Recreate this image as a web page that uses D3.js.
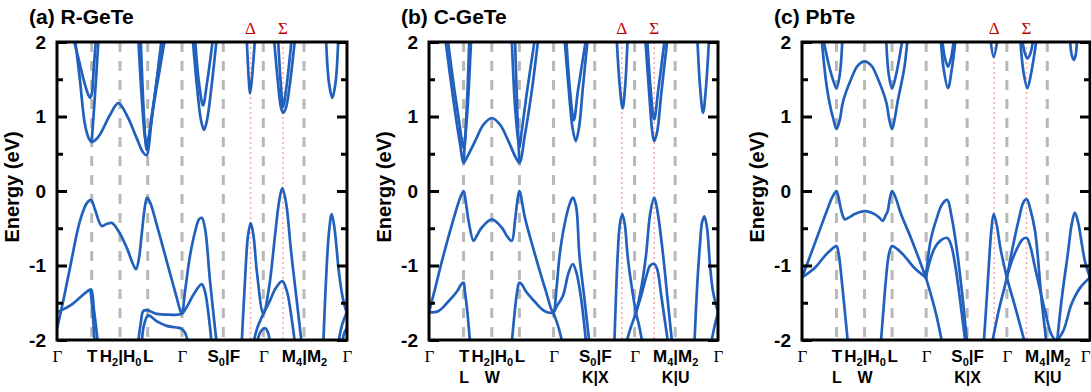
<!doctype html>
<html lang="en">
<head>
<meta charset="utf-8" />
<title>Band structures</title>
<script src="https://d3js.org/d3.v7.min.js"></script>
<style>
  body { margin: 0; background: #fff; }
  svg { display: block; }
</style>
</head>
<body>
<div id="chart"></div>
<script>
// k-path (path length units) and labels
const kTicks = [0, 34.7, 63, 90.7, 125, 166.3, 206.3, 247, 290];
const kLabels = ["Γ", "T", "H_2|H_0", "L", "Γ", "S_0|F", "Γ", "M_4|M_2", "Γ"];
const kLabels2 = ["", "L", "W", "", "", "K|X", "", "K|U", ""];
const kMarks = [193.5, 226];
const markLabels = ["Δ", "Σ"];
const eTicks = [-2, -1, 0, 1, 2];
const eMinor = [-1.5, -0.5, 0.5, 1.5];
const titles = ["(a) R-GeTe", "(b) C-GeTe", "(c) PbTe"];

// bands as [k, E (eV)]
// (a) R-GeTe
const a_v1 = [[0,-1.85],[6.3,-1.47],[13,-1.03],[23,-0.40],[30,-0.16],[34,-0.12],[38,-0.25],[44.7,-0.47],[50,-0.44],[55,-0.43],[62,-0.55],[69.7,-0.76],[76,-0.98],[79,-1.05],[82,-0.9],[84.7,-0.58],[88,-0.2],[90,-0.09],[93,-0.15],[99.7,-0.45],[109.7,-0.94],[119.7,-1.43],[124.7,-1.65],[128,-1.35],[133,-0.87],[138,-0.55],[142,-0.38],[144.7,-0.36],[148,-0.5],[153,-1.21],[159.7,-2.05]];
const a_v2 = [[0,-1.63],[13,-1.54],[23,-1.43],[30,-1.35],[34,-1.32],[37,-1.6],[41,-2.05]];
const a_v2b = [[33.5,-1.33],[35.5,-1.6],[37.7,-2.05]];
const a_L1 = [[81,-2.05],[84,-1.75],[86.3,-1.61],[90,-1.6],[99.7,-1.65],[112,-1.66],[124.7,-1.65],[130,-1.55],[137,-1.38],[144.7,-1.25],[148,-1.35],[151,-1.6],[154.7,-2.05]];
const a_L2 = [[84.7,-2.05],[87,-1.8],[91.3,-1.67],[100,-1.75],[109.7,-1.81],[124.7,-1.85],[128,-1.9],[131.3,-2.05]];
const a_D = [[184.7,-2.05],[188,-1.2],[191,-0.6],[193.7,-0.43],[196.5,-0.6],[200,-1.1],[206.3,-1.65],[212,-1.3],[218,-0.6],[222,-0.15],[225.3,0.04],[229,-0.15],[234,-0.8],[240,-1.5],[244.7,-2.05]];
const a_S2 = [[196.3,-2.05],[200,-1.85],[206.3,-1.65],[212,-1.5],[219,-1.3],[225.3,-1.21],[230,-1.35],[234,-1.65],[238,-2.05]];
const a_arc = [[199.7,-2.05],[204,-1.88],[208,-1.84],[211,-1.9],[213,-2.05]];
const a_R = [[266.3,-2.05],[269,-1.2],[272,-0.55],[274.7,-0.31],[277.5,-0.5],[282,-1.1],[286,-1.45],[290,-1.65]];
const a_R2 = [[281.3,-2.05],[285,-1.8],[290,-1.62]];
const a_R3 = [[284.7,-2.05],[287.5,-1.9],[290,-1.83]];
const a_c1 = [[18,2.05],[23,1.48],[28,0.89],[32,0.7],[34.7,0.66],[38,0.68],[43,0.76],[53,1.02],[61.3,1.18],[69.7,1.02],[79.7,0.71],[86,0.52],[89.7,0.48],[92,0.62],[94.7,0.98],[103,1.65],[108,2.05]];
const a_c2 = [[16.3,2.05],[22,1.75],[26.3,1.51],[31,1.3],[33,1.25],[35,1.32],[36.3,1.56],[39,2.05]];
const a_c3 = [[34.7,0.66],[37,1.1],[39.5,1.6],[41.5,2.05]];
const a_c4 = [[81.3,2.05],[85,1.2],[88,0.72],[89.7,0.62],[92,0.72],[97,1.2],[104.7,2.05]];
const a_c5 = [[83.7,2.05],[87,1.0],[89.7,0.55],[93,0.85],[100,1.5],[106,2.05]];
const a_c6 = [[135.7,2.05],[140,1.4],[144,0.95],[147,0.82],[150,0.95],[154.5,1.4],[159.7,2.05]];
const a_c7 = [[138,2.05],[142,1.45],[146,1.15],[150,1.45],[156,2.05]];
const a_c8 = [[189.7,2.05],[192,1.45],[193,1.31],[194.5,1.45],[198,2.05]];
const a_c9 = [[217,2.05],[221,1.45],[224,1.12],[226.3,1.05],[229,1.12],[233,1.45],[238,2.05]];
const a_c10 = [[221,2.05],[224,1.4],[226,1.13],[229,1.35],[234.7,2.05]];
const a_c11 = [[269,2.05],[272,1.45],[275.3,1.25],[278.5,1.45],[281.3,2.05]];

// (b) C-GeTe
const b_v1 = [[0,-1.63],[6.3,-1.30],[13,-0.94],[23,-0.45],[31.3,-0.09],[34.7,0.0],[37,-0.15],[39.7,-0.40],[44.7,-0.67],[48,-0.6],[53,-0.49],[63,-0.38],[73,-0.49],[78,-0.6],[83,-0.67],[86.3,-0.40],[88.5,-0.15],[90.7,0.0],[96.3,-0.36],[106.3,-0.85],[116.3,-1.30],[124.7,-1.63],[128,-1.3],[131,-0.87],[136,-0.45],[141,-0.18],[144.3,-0.09],[147.5,-0.2],[151,-0.87],[156,-1.45],[161,-2.05]];
const b_v2 = [[0,-1.63],[9.7,-1.61],[19.7,-1.48],[28,-1.35],[32,-1.26],[34.7,-1.23],[36,-1.35],[38,-1.56],[41.3,-2.05]];
const b_v3 = [[83,-2.05],[86.5,-1.56],[88.5,-1.35],[90.7,-1.23],[93.5,-1.26],[97.4,-1.35],[105.7,-1.48],[115.7,-1.61],[124.7,-1.63],[128,-1.55],[134.3,-1.41],[140,-1.1],[144.3,-0.98],[148,-1.1],[152.7,-1.45],[157.7,-2.05]];
const b_g = [[124.7,-1.63],[128,-1.75],[131,-1.88],[134,-2.05]];
const b_D = [[186,-2.05],[189.3,-0.87],[191.5,-0.45],[194,-0.31],[196.5,-0.45],[199.3,-0.87],[203,-1.25],[207.7,-1.63],[211,-1.82],[214.3,-2.05]];
const b_S = [[197.7,-2.05],[202,-1.85],[207.7,-1.63],[213,-1.3],[217.7,-0.87],[222,-0.3],[226,-0.09],[229,-0.25],[235,-0.87],[239,-1.4],[244,-2.05]];
const b_S2 = [[207.7,-1.63],[213,-1.4],[218,-1.15],[222,-1.0],[226,-0.98],[229,-1.05],[233,-1.4],[240,-2.05]];
const b_R = [[266.3,-2.05],[269,-1.3],[272,-0.7],[274,-0.42],[276.3,-0.34],[279,-0.5],[282,-1.0],[285,-1.35],[290,-1.63]];
const b_R2 = [[283,-2.05],[286,-1.85],[290,-1.63]];
const b_c1 = [[16.3,2.05],[24.7,1.20],[31.3,0.62],[34.7,0.38],[38,0.45],[46.3,0.67],[54.7,0.89],[63,0.98],[71.3,0.89],[79.7,0.67],[87,0.45],[90.7,0.38],[96.3,0.76],[103,1.33],[109.7,2.05]];
const b_c2 = [[18.7,2.05],[24,1.5],[29.7,0.98],[34.7,0.58],[38,0.98],[42.3,2.05]];
const b_c3 = [[34.7,0.38],[37.5,1.0],[40.5,2.05]];
const b_c4 = [[83,2.05],[86,1.2],[88.5,0.8],[90.7,0.58],[93,0.8],[98,1.3],[106.3,2.05]];
const b_c5 = [[86.3,2.05],[88.5,1.1],[90.7,0.38]];
const b_c6 = [[136,2.05],[140,1.4],[144,0.85],[147.3,0.67],[150.5,0.85],[154.5,1.4],[159.3,2.05]];
const b_c7 = [[137.7,2.05],[141.5,1.35],[145.3,0.95],[149.5,1.35],[157.7,2.05]];
const b_c8 = [[188.3,2.05],[191.5,1.4],[194.3,1.11],[196.8,1.4],[199.3,2.05]];
const b_c9 = [[217,2.05],[221,1.3],[224,0.8],[226,0.67],[229,0.8],[233,1.3],[239.3,2.05]];
const b_c10 = [[219,2.05],[222.5,1.35],[226,0.96],[230,1.35],[236.7,2.05]];
const b_c11 = [[269.3,2.05],[272,1.4],[275,1.05],[278,1.4],[281,2.05]];

// (c) PbTe
const c_v1 = [[0,-1.16],[6.3,-0.94],[16.3,-0.58],[26.3,-0.22],[31,-0.07],[34.7,0.0],[37,-0.1],[39.7,-0.27],[43,-0.38],[48,-0.35],[53,-0.31],[63,-0.27],[73,-0.31],[78,-0.36],[81.3,-0.40],[84.5,-0.32],[86.3,-0.27],[88.5,-0.1],[90.7,0.0],[94,-0.08],[99.7,-0.31],[109.7,-0.63],[119.7,-0.98],[124.7,-1.16]];
const c_v1b = [[124.7,-1.16],[129.7,-0.65],[136.3,-0.34],[141,-0.18],[146.3,-0.12],[150,-0.3],[154.7,-0.67],[161.3,-1.38],[166.3,-2.05]];
const c_v2 = [[0,-1.16],[13,-1.03],[23,-0.87],[30,-0.78],[34.7,-0.74],[37,-0.85],[39.7,-1.16],[43,-1.6],[46.3,-2.05]];
const c_v3 = [[79.3,-2.05],[82,-1.6],[84.7,-1.16],[87.5,-0.85],[90.7,-0.74],[96,-0.78],[103,-0.87],[113,-1.03],[124.7,-1.16]];
const c_v2b = [[124.7,-1.16],[133,-0.78],[140,-0.66],[146.3,-0.63],[150,-0.72],[154.7,-1.03],[160,-1.55],[164.7,-2.05]];
const c_g = [[124.7,-1.16],[130,-1.4],[135,-1.65],[141.3,-2.05]];
const c_D = [[183,-2.05],[186,-1.45],[188,-1.03],[190.5,-0.55],[193,-0.31],[196,-0.45],[199.7,-0.76],[206.3,-1.16],[214.7,-1.56],[224.7,-2.05]];
const c_S = [[191.3,-2.05],[198,-1.61],[206.3,-1.16],[211.3,-0.81],[218,-0.40],[223,-0.15],[226.3,-0.11],[230,-0.25],[234.7,-0.54],[241.3,-1.47],[246.3,-2.05]];
const c_S2 = [[206.3,-1.16],[211,-0.95],[216.3,-0.78],[222,-0.65],[226.3,-0.63],[230,-0.75],[234.7,-1.03],[244.7,-1.61],[251.3,-1.93],[256,-2.0],[263,-1.88],[271.3,-1.52],[280,-1.3],[290,-1.16]];
const c_R = [[256.7,-2.05],[261.3,-1.47],[268,-0.81],[271.5,-0.45],[274.7,-0.29],[278,-0.42],[281.3,-0.67],[285,-0.95],[290,-1.16]];
const c_c1 = [[19.7,2.05],[24.7,1.42],[29,1.1],[31.3,0.98],[34.7,0.83],[38,0.95],[41.3,1.20],[49.7,1.51],[56,1.68],[63,1.74],[70,1.68],[76.3,1.51],[84.7,1.20],[88,0.95],[90.7,0.83],[93.5,0.98],[96.3,1.20],[103,1.65],[106.3,2.05]];
const c_c2 = [[21.3,2.05],[26,1.75],[29.7,1.56],[34.7,1.38],[38,1.56],[40.7,2.05]];
const c_c3 = [[84.7,2.05],[87.4,1.56],[90.7,1.38],[94.7,1.56],[101.3,2.05]];
const c_c4 = [[139.7,2.05],[142.5,1.65],[147,1.38],[151,1.65],[154.7,2.05]];
const c_c5 = [[141,2.05],[144,1.78],[147,1.67],[150,1.78],[153,2.05]];
const c_c6 = [[189.7,2.05],[193,1.80],[197,2.05]];
const c_c7 = [[219.7,2.05],[223,1.6],[227,1.38],[231,1.6],[236.3,2.05]];
const c_c8 = [[221.5,2.05],[224.5,1.85],[227,1.78],[230,1.85],[233,2.05]];
const c_c9 = [[269.7,2.05],[271.7,1.82],[273.7,1.76],[275.5,1.82],[277,2.05]];

const bandsA = [a_v1, a_v2, a_v2b, a_L1, a_L2, a_D, a_S2, a_arc, a_R, a_R2, a_R3,
  a_c1, a_c2, a_c3, a_c4, a_c5, a_c6, a_c7, a_c8, a_c9, a_c10, a_c11];
const bandsB = [b_v1, b_v2, b_v3, b_g, b_D, b_S, b_S2, b_R, b_R2,
  b_c1, b_c2, b_c3, b_c4, b_c5, b_c6, b_c7, b_c8, b_c9, b_c10, b_c11];
const bandsC = [c_v1, c_v1b, c_v2, c_v3, c_v2b, c_g, c_D, c_S, c_S2, c_R,
  c_c1, c_c2, c_c3, c_c4, c_c5, c_c6, c_c7, c_c8, c_c9];

const panels = [
  { x0: 57, x1: 347, bands: bandsA, second: false },
  { x0: 429, x1: 718, bands: bandsB, second: true },
  { x0: 802, x1: 1090, bands: bandsC, second: true }
];

const W = 1091, H = 392;
const blue = "#2160bd";
const sans = "'Liberation Sans', Arial, sans-serif";
const serif = "'Liberation Serif', 'Times New Roman', serif";

const svg = d3.select("#chart").append("svg")
  .attr("width", W).attr("height", H);

const y = d3.scaleLinear().domain([-2, 2]).range([340, 42]);

// write a label with _n subscripts into a text node
function fillLabel(text, label) {
  text.text(null);
  if (label === "Γ") {
    text.attr("font-family", serif).attr("font-weight", "normal").attr("font-size", 17).text(label);
    return;
  }
  const parts = label.split(/(_\d)/).filter(s => s.length);
  let shifted = false;
  parts.forEach(s => {
    if (s[0] === "_") {
      text.append("tspan").attr("font-size", 11).attr("dy", 4).text(s.slice(1));
      shifted = true;
    } else {
      text.append("tspan").attr("dy", shifted ? -4 : 0).text(s);
      shifted = false;
    }
  });
}

panels.forEach((p, i) => {
  const x = d3.scaleLinear().domain([0, 290]).range([p.x0, p.x1]);
  const g = svg.append("g");

  g.append("clipPath").attr("id", "clip" + i)
    .append("rect")
    .attr("x", p.x0).attr("y", y(2))
    .attr("width", p.x1 - p.x0).attr("height", y(-2) - y(2));

  // high-symmetry lines
  g.selectAll(".kline").data(kTicks.slice(1, -1)).join("line")
    .attr("class", "kline")
    .attr("x1", d => x(d)).attr("x2", d => x(d))
    .attr("y1", y(2)).attr("y2", y(-2))
    .attr("stroke", "#b8b8b8").attr("stroke-width", 3)
    .attr("stroke-dasharray", "10,9");

  g.selectAll(".mark").data(kMarks).join("line")
    .attr("class", "mark")
    .attr("x1", d => x(d)).attr("x2", d => x(d))
    .attr("y1", y(2)).attr("y2", y(-2))
    .attr("stroke", "#f4a6a6").attr("stroke-width", 1.5)
    .attr("stroke-dasharray", "2,3");

  g.selectAll(".markLabel").data(kMarks).join("text")
    .attr("class", "markLabel")
    .attr("x", d => x(d)).attr("y", 34)
    .attr("text-anchor", "middle")
    .attr("font-family", serif).attr("font-size", 17)
    .attr("fill", "#c00000")
    .text((d, j) => markLabels[j]);

  // bands
  const line = d3.line()
    .x(d => x(d[0])).y(d => y(d[1]))
    .curve(d3.curveCatmullRom.alpha(0.5));

  g.append("g").attr("clip-path", `url(#clip${i})`)
    .selectAll("path").data(p.bands).join("path")
    .attr("d", line)
    .attr("fill", "none")
    .attr("stroke", blue)
    .attr("stroke-width", 2.7)
    .attr("stroke-linejoin", "round")
    .attr("stroke-linecap", "round");

  // frame
  g.append("rect")
    .attr("x", p.x0).attr("y", y(2))
    .attr("width", p.x1 - p.x0).attr("height", y(-2) - y(2))
    .attr("fill", "none").attr("stroke", "#000").attr("stroke-width", 3);

  // energy axes (ticks inward)
  const left = g.append("g").attr("transform", `translate(${p.x0},0)`)
    .call(d3.axisLeft(y).tickValues(eTicks).tickSizeInner(-10).tickSizeOuter(0)
      .tickPadding(11).tickFormat(d => String(d)));
  const leftMinor = g.append("g").attr("transform", `translate(${p.x0},0)`)
    .call(d3.axisLeft(y).tickValues(eMinor).tickSizeInner(-6).tickSizeOuter(0).tickFormat(""));
  const right = g.append("g").attr("transform", `translate(${p.x1},0)`)
    .call(d3.axisRight(y).tickValues(eTicks).tickSizeInner(-10).tickSizeOuter(0).tickFormat(""));
  const rightMinor = g.append("g").attr("transform", `translate(${p.x1},0)`)
    .call(d3.axisRight(y).tickValues(eMinor).tickSizeInner(-6).tickSizeOuter(0).tickFormat(""));
  [left, leftMinor, right, rightMinor].forEach(a => {
    a.select(".domain").remove();
    a.selectAll("line").attr("stroke", "#000").attr("stroke-width", 3);
  });
  left.selectAll("text")
    .attr("font-family", sans).attr("font-weight", "bold").attr("font-size", 19)
    .attr("fill", "#000");

  g.append("text")
    .attr("transform", `translate(${p.x0 - 38},${y(0) - 4}) rotate(-90)`)
    .attr("text-anchor", "middle")
    .attr("font-family", sans).attr("font-weight", "bold").attr("font-size", 20)
    .text("Energy (eV)");

  // k-path labels
  const xAxis = g.append("g").attr("transform", `translate(0,${y(-2)})`)
    .call(d3.axisBottom(x).tickValues(kTicks).tickSize(0).tickFormat(""));
  xAxis.select(".domain").remove();
  xAxis.selectAll("text")
    .attr("y", 22).attr("dy", null)
    .attr("font-family", sans).attr("font-weight", "bold").attr("font-size", 17)
    .attr("fill", "#000")
    .each(function (d, j) { fillLabel(d3.select(this), kLabels[j]); })
    // keep the last label inside the page
    .filter(d => x(d) + 6 > W)
    .attr("text-anchor", "end").attr("x", W - 1 - x(290));

  if (p.second) {
    const xAxis2 = g.append("g").attr("transform", `translate(0,${y(-2)})`)
      .call(d3.axisBottom(x).tickValues(kTicks).tickSize(0).tickFormat((d, j) => kLabels2[j]));
    xAxis2.select(".domain").remove();
    xAxis2.selectAll("text")
      .attr("y", 43).attr("dy", null)
      .attr("font-family", sans).attr("font-weight", "bold").attr("font-size", 16)
      .attr("fill", "#000");
  }

  svg.append("text")
    .attr("x", p.x0 - 28).attr("y", 24)
    .attr("font-family", sans).attr("font-weight", "bold").attr("font-size", 21)
    .text(titles[i]);
});
</script>
</body>
</html>
